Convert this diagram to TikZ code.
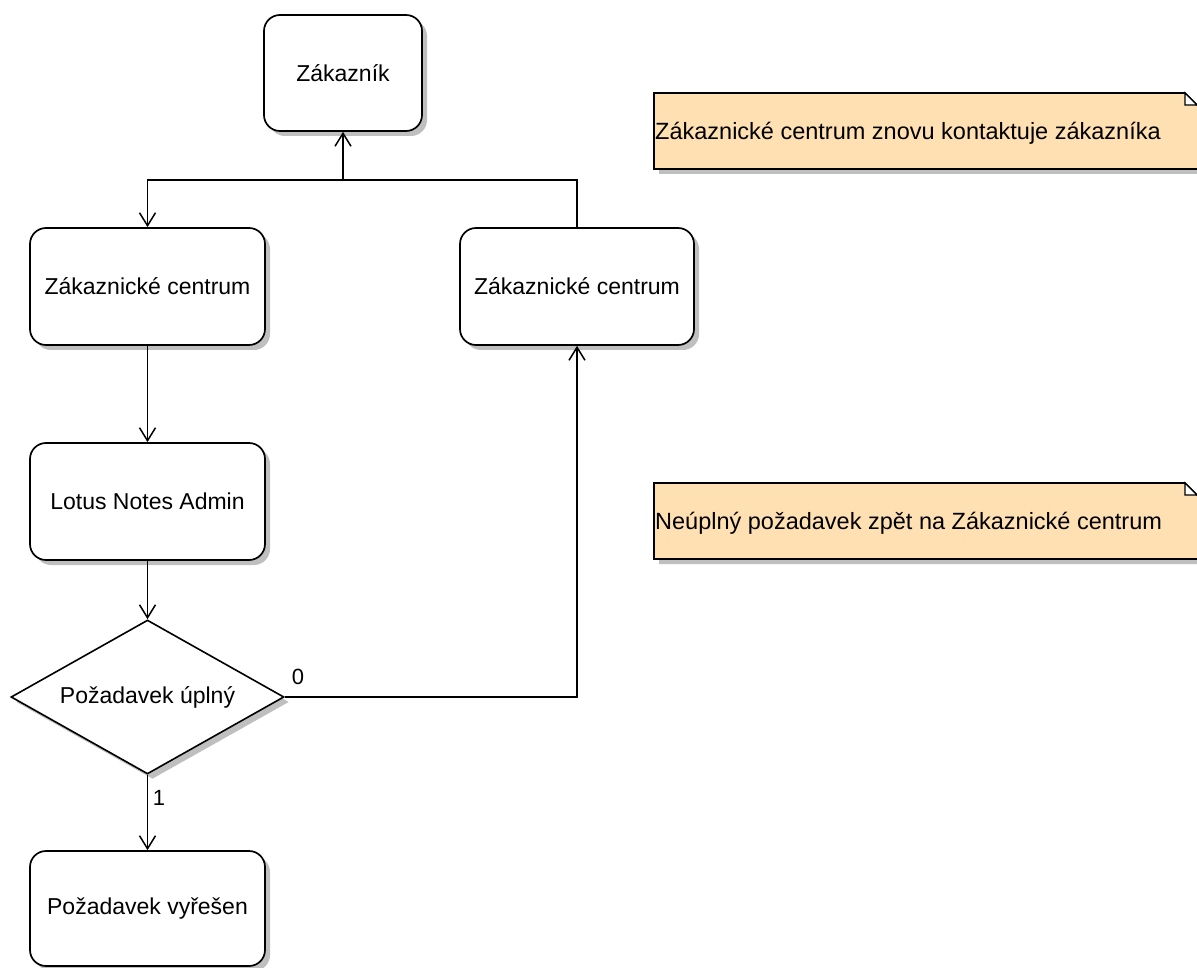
\documentclass[tikz,border=0pt]{standalone}
\usepackage{fontspec}
\setmainfont{Liberation Sans}
\usetikzlibrary{shapes.geometric,shadows,arrows.meta}
\definecolor{notefill}{RGB}{255,224,178}
\begin{document}
\begin{tikzpicture}[x=1pt,y=-1pt,
  shade box/.style={drop shadow={shadow xshift=5pt, shadow yshift=-5pt, fill=black!25, opacity=1}},
  box/.style={draw, line width=1.7pt, rounded corners=16pt, fill=white,
    minimum width=235pt, minimum height=117pt, inner sep=0pt,
    font=\fontsize{23}{27}\selectfont, shade box},
  decision/.style={draw, diamond, line width=1.6pt, fill=white, aspect=1.77,
    minimum width=273pt, minimum height=154pt, inner sep=0pt,
    font=\fontsize{23}{27}\selectfont, shade box},
  notebox/.style={draw, line width=1.7pt, fill=notefill, shade box},
  notetext/.style={anchor=west, inner sep=0pt, font=\fontsize{23.5}{28}\selectfont},
  arr/.style={draw, line width=1.7pt, -{Straight Barb[length=13pt,width=16pt,line width=1.5pt]}},
  lbl/.style={font=\fontsize{22}{26}\selectfont, inner sep=0pt},
]
\path[use as bounding box, clip] (0,0) rectangle (1197,968);
\fill[white] (0,0) rectangle (1197,968);

% activity nodes
\node[box, minimum width=158pt, minimum height=116pt] (zk) at (343,73) {Zákazník};
\node[box] (zcL) at (147.5,286.5) {Zákaznické centrum};
\node[box, minimum width=234pt] (zcR) at (577,286.5) {Zákaznické centrum};
\node[box] (lna) at (147.5,501.5) {Lotus Notes Admin};
\node[decision] (dia) at (147.5,697) {Požadavek úplný};
\node[box, minimum height=115pt] (pv) at (147.5,908.5) {Požadavek vyřešen};

% notes with folded corner
\path[notebox] (654,93) -- (1185,93) -- (1199,107) -- (1199,169) -- (654,169) -- cycle;
\draw[line width=1.3pt, fill=white] (1185,93) -- (1185,105) -- (1197,105) -- cycle;
\node[notetext] (n1) at (655,133) {Zákaznické centrum znovu kontaktuje zákazníka};

\path[notebox] (654,483) -- (1185,483) -- (1199,497) -- (1199,559) -- (654,559) -- cycle;
\draw[line width=1.3pt, fill=white] (1185,483) -- (1185,495) -- (1197,495) -- cycle;
\node[notetext] (n2) at (655,523) {Neúplný požadavek zpět na Zákaznické centrum};

% connectors
\coordinate (jM) at (343,180);
\draw[arr] (zcR.north) |- (jM) -- (zk.south);
\draw[arr] (jM) -| (zcL.north);
\draw[arr] (zcL.south) -- (lna.north);
\draw[arr] (lna.south) -- (dia.north);
\draw[arr] (dia.east) -| (zcR.south);
\draw[arr] (dia.south) -- (pv.north);

% branch labels
\node[lbl] (l0) at (298,677) {0};
\node[lbl] (l1) at (159,798) {1};
\end{tikzpicture}
\end{document}
